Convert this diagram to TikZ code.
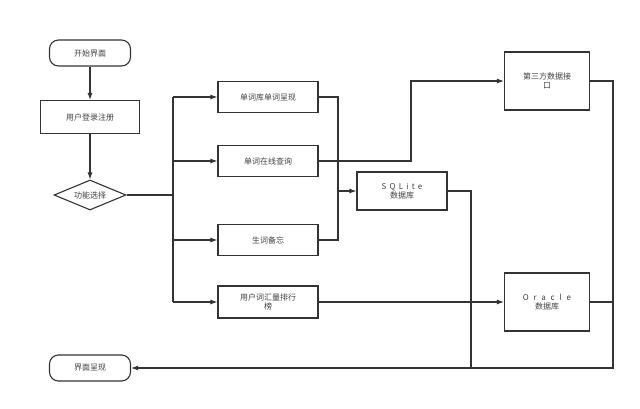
\documentclass[tikz,border=0pt]{standalone}
\usepackage{fontspec}
\setmainfont{Noto Sans CJK SC}
\usetikzlibrary{shapes.geometric,arrows.meta}
\begin{document}
\begin{tikzpicture}[x=1pt,y=-1pt,
  every node/.style={font=\fontsize{8}{9.5}\selectfont,text=black!75},
  box/.style={draw=black!80,line width=1.1pt,rectangle,minimum width=#1,align=center,inner sep=1pt},
  term/.style={draw=black!80,line width=1.1pt,rounded corners=9pt,minimum width=81pt,minimum height=26pt},
  ln/.style={draw=black!80,line width=1.1pt},
  ar/.style={ln,-{Latex[length=7pt,width=5pt]}}]
\useasboundingbox (0,0) rectangle (640,408);
\node[term] (start) at (90,53) {开始界面};
\node[box=99pt,minimum height=33pt] (login) at (90,117) {用户登录注册};
\node[diamond,draw=black!80,line width=1.1pt,aspect=2.4,minimum width=72pt,minimum height=30pt,inner sep=0pt] (sel) at (90,195) {功能选择};
\node[box=100pt,minimum height=31pt] (b1) at (268,97) {单词库单词呈现};
\node[box=100pt,minimum height=31pt] (b2) at (268,161) {单词在线查询};
\node[box=100pt,minimum height=31pt] (b3) at (268,240) {生词备忘};
\node[box=100pt,minimum height=32pt,text width=92pt] (b4) at (268,302) {用户词汇量排行\\榜};
\node[box=90pt,minimum height=38pt] (sql) at (402,191) {\addfontfeatures{LetterSpace=40}SQLite\\数据库};
\node[box=85pt,minimum height=58pt,text width=78pt] (api) at (547,81) {第三方数据接\\口};
\node[box=85pt,minimum height=58pt] (ora) at (547,302) {\addfontfeatures{LetterSpace=60}Oracle\\数据库};
\node[term] (end) at (90,368) {界面呈现};
\coordinate (bus) at (173,195);
\draw[ar] (start) -- (login);
\draw[ar] (login) -- (sel);
\draw[ln] (sel.east) -- (bus);
\draw[ln] (173,97) -- (173,302);
\draw[ar] (173,97) -- (b1.west);
\draw[ar] (173,161) -- (b2.west);
\draw[ar] (173,240) -- (b3.west);
\draw[ar] (173,302) -- (b4.west);
\draw[ln] (b1.east) -- (338,97) -- (338,240) -- (b3.east);
\draw[ar] (338,191) -- (sql.west);
\draw[ar] (b2.east) -- (411,161) -- (411,81) -- (api.west);
\draw[ar] (b4.east) -- (ora.west);
\draw[ln] (sql.east) -- (471,191) -- (471,368);
\draw[ln] (ora.east) -- (613,302);
\draw[ar] (api.east) -- (613,81) -- (613,368) -- (end.east);
\end{tikzpicture}
\end{document}
